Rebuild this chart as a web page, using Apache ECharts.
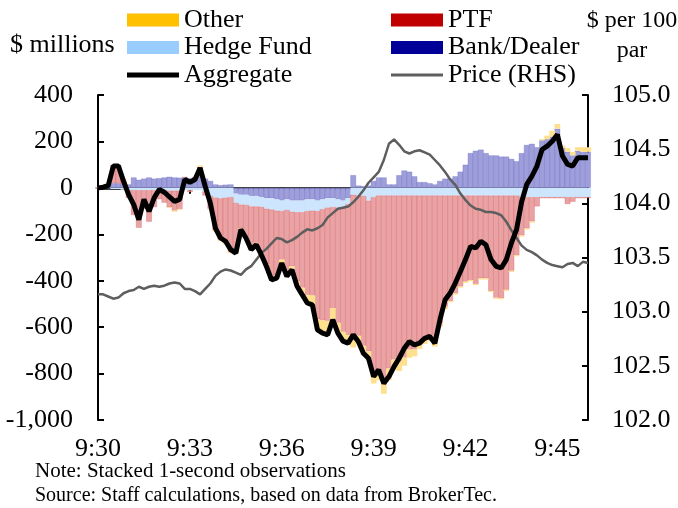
<!DOCTYPE html>
<html><head><meta charset="utf-8">
<script src="https://cdn.jsdelivr.net/npm/echarts@6/dist/echarts.min.js"></script>
<style>html,body{margin:0;padding:0;background:#fff}#c{width:678px;height:508px}</style>
</head><body><div id="c"></div>
<script>
// seconds after 9:30:00
const seconds = [0,10,20,30,40,50,60,70,80,90,100,110,120,130,140,150,160,170,180,190,200,210,220,230,240,250,260,270,280,290,300,310,320,330,340,350,360,370,380,390,400,410,420,430,440,450,460,470,480,490,500,510,520,530,540,550,560,570,580,590,600,610,620,630,640,650,660,670,680,690,700,710,720,730,740,750,760,770,780,790,800,810,820,830,840,850,860,870,880,890,900,910,920,930,940,950,960];
const xTickSeconds = [0,180,360,540,720,900];
const xTickLabels = ['9:30','9:33','9:36','9:39','9:42','9:45'];

const bankDealer = [0,5,10,20,20,15,15,45,35,40,45,40,42,45,48,45,44,45,42,45,48,40,30,15,12,14,15,-25,-30,-30,-35,-35,-40,-45,-45,-50,-55,-50,-55,-55,-55,-50,-50,-55,-50,-45,-45,-50,-55,-45,55,10,8,10,30,45,45,15,15,55,75,70,50,25,25,20,15,30,40,40,50,70,100,150,160,165,150,140,140,135,135,125,115,150,185,190,175,205,210,221,255,172,156,140,160,155,155];
const hedgeFund = [0,0,-2,-5,-5,-8,-10,-10,-10,-10,-10,-10,-10,-10,-12,-12,-12,-10,-10,-10,-10,-15,-35,-42,-45,-42,-40,-40,-42,-43,-45,-45,-42,-45,-48,-48,-45,-45,-48,-50,-50,-50,-48,-45,-42,-40,-38,-35,-30,-25,-30,-33,-35,-55,-40,-33,-33,-33,-33,-33,-33,-33,-33,-33,-33,-33,-33,-33,-33,-33,-33,-33,-33,-33,-33,-33,-33,-33,-33,-33,-33,-33,-33,-40,-40,-40,-40,-40,-40,-40,-40,-40,-40,-40,-40,-40,-40];
const ptf = [0,-2,2,79,79,22,-34,-107,-162,-80,-136,-73,-39,-54,-72,-86,-79,1,-8,1,43,-18,-55,-141,-178,-197,-236,-211,-103,-138,-178,-157,-196,-238,-291,-279,-209,-271,-235,-299,-325,-361,-366,-467,-479,-488,-435,-496,-535,-564,-628,-604,-645,-649,-763,-751,-804,-745,-707,-716,-698,-664,-663,-631,-615,-602,-631,-550,-479,-455,-422,-392,-371,-364,-381,-357,-357,-411,-440,-442,-406,-324,-257,-165,-135,-105,-40,-5,-5,-5,-5,-5,-30,-20,-5,-5,-5];
const other = [0,0,0,0,0,0,0,0,0,0,0,0,0,0,-3,-5,-3,0,0,0,5,0,-5,-5,-5,-5,-5,-5,-5,-5,-8,-8,-10,-10,-12,-12,-15,-15,-15,-20,-30,-35,-40,-45,-55,-60,-50,-45,-40,-35,-30,-35,-40,-40,-40,-45,-50,-50,-45,-40,-35,-35,-30,-30,-25,-25,-20,-15,-10,-5,-5,-5,-5,-5,-5,-5,-5,-5,-5,-5,-5,-5,-5,-5,-5,-5,0,5,15,25,20,10,15,15,15,20,20];
const aggregate = [0,3,10,94,94,29,-29,-72,-137,-50,-101,-43,-7,-19,-39,-58,-50,36,24,36,86,7,-65,-173,-216,-230,-266,-281,-180,-216,-266,-245,-288,-338,-396,-389,-324,-381,-353,-424,-460,-496,-504,-612,-626,-633,-568,-626,-660,-669,-633,-662,-712,-734,-813,-784,-842,-813,-770,-734,-691,-662,-676,-669,-648,-640,-669,-568,-482,-453,-410,-360,-309,-252,-259,-230,-245,-309,-338,-345,-309,-237,-180,-60,15,50,94,165,180,201,230,137,101,94,130,130,130];
const price = [103.16,103.16,103.14,103.12,103.13,103.17,103.19,103.20,103.23,103.21,103.23,103.24,103.23,103.24,103.26,103.27,103.26,103.21,103.21,103.19,103.16,103.21,103.26,103.33,103.37,103.39,103.38,103.36,103.34,103.39,103.42,103.48,103.54,103.58,103.63,103.68,103.67,103.64,103.66,103.69,103.73,103.76,103.75,103.77,103.80,103.87,103.91,103.95,103.96,103.97,104.01,104.06,104.12,104.19,104.24,104.29,104.40,104.55,104.59,104.54,104.48,104.46,104.48,104.49,104.47,104.45,104.40,104.35,104.29,104.22,104.17,104.09,104.03,103.98,103.95,103.94,103.92,103.92,103.91,103.89,103.83,103.75,103.68,103.61,103.57,103.55,103.52,103.48,103.45,103.43,103.42,103.41,103.44,103.45,103.42,103.46,103.45];

const F = '"Liberation Serif","Times New Roman",serif';
const cats = seconds.map(String);
function isTick(i){ return xTickSeconds.indexOf(seconds[i]) >= 0; }
function lbl(v, i){ const k = xTickSeconds.indexOf(Number(v)); return k >= 0 ? xTickLabels[k] : ''; }

const chart = echarts.init(document.getElementById('c'), null, {renderer:'canvas'});
const barW = 5.8;
const legendText = {fontFamily:F, fontSize:26, color:'#000'};
// thin line icons for the line series (invisible moveTo points keep the 52x13 box)
const lineIcon = h => 'path://M0,0M52,13M0,' + (6.5 - h/2) + 'H52V' + (6.5 + h/2) + 'H0Z';
chart.setOption({
  animation:false,
  backgroundColor:'#fff',
  grid:{left:98, right:90, top:95, bottom:88, containLabel:false},
  legend:[
    {left:127, top:7, padding:0, orient:'vertical', itemWidth:52, itemHeight:13, itemGap:1.5, textStyle:legendText, selectedMode:false,
     data:[{name:'Other', icon:'rect', itemStyle:{color:'#FFC000', borderWidth:0}},
           {name:'Hedge Fund', icon:'rect', itemStyle:{color:'#99CCFF', borderWidth:0}},
           {name:'Aggregate', icon:lineIcon(5), itemStyle:{color:'#000', borderWidth:0}}]},
    {left:391, top:7, padding:0, orient:'vertical', itemWidth:52, itemHeight:13, itemGap:1.5, textStyle:legendText, selectedMode:false,
     data:[{name:'PTF', icon:'rect', itemStyle:{color:'#C00000', borderWidth:0}},
           {name:'Bank/Dealer', icon:'rect', itemStyle:{color:'#000099', borderWidth:0}},
           {name:'Price (RHS)', icon:lineIcon(3), itemStyle:{color:'#5E5E5E', borderWidth:0}}]}
  ],
  graphic:[
    {type:'text', left:10, top:32, style:{text:'$ millions', font:'26px '+F, fill:'#000'}},
    {type:'text', x:632, y:6, style:{text:'$ per 100\npar', font:'24px '+F, fill:'#000', align:'center', lineHeight:30}},
    {type:'text', left:35, top:461, style:{text:'Note: Stacked 1-second observations', font:'21px '+F, fill:'#000'}},
    {type:'text', left:35, top:486, style:{text:'Source: Staff calculations, based on data from BrokerTec.', font:'20px '+F, fill:'#000'}}
  ],
  xAxis:[
    {type:'category', data:cats, boundaryGap:false, position:'bottom',
     axisLine:{show:true, onZero:true, onZeroAxisIndex:0, lineStyle:{color:'#000', width:2.5}},
     axisTick:{show:true, length:6, interval:(i)=> isTick(i) && i>0, lineStyle:{color:'#000', width:2}},
     axisLabel:{show:false}, splitLine:{show:false}},
    {type:'category', data:cats, boundaryGap:false, position:'bottom',
     axisLine:{show:false, onZero:false}, axisTick:{show:false}, splitLine:{show:false},
     axisLabel:{show:true, margin:16, interval:(i)=> isTick(i), formatter:lbl, fontFamily:F, fontSize:26, color:'#000'}}
  ],
  yAxis:[
    {type:'value', min:-1000, max:400, interval:200, position:'left',
     axisLine:{show:true, lineStyle:{color:'#000', width:2}},
     axisTick:{show:true, inside:true, length:6, lineStyle:{color:'#000', width:2}},
     axisLabel:{margin:25, fontFamily:F, fontSize:26, color:'#000', formatter:v=>v.toLocaleString('en-US')},
     splitLine:{show:false}},
    {type:'value', min:102, max:105, interval:0.5, position:'right',
     axisLine:{show:true, lineStyle:{color:'#000', width:2}},
     axisTick:{show:true, inside:true, length:6, lineStyle:{color:'#000', width:2}},
     axisLabel:{margin:24, fontFamily:F, fontSize:26, color:'#000', formatter:v=>v.toFixed(1)},
     splitLine:{show:false}}
  ],
  series:[
    {name:'Bank/Dealer', type:'bar', stack:'net', barWidth:barW, data:bankDealer, itemStyle:{color:'#9E9EDA', borderColor:'rgba(90,90,190,0.45)', borderWidth:0.6}},
    {name:'Hedge Fund', type:'bar', stack:'net', barWidth:barW, data:hedgeFund, itemStyle:{color:'#CDE5FD'}},
    {name:'PTF', type:'bar', stack:'net', barWidth:barW, data:ptf, itemStyle:{color:'#EAA3A5', borderColor:'rgba(210,70,70,0.45)', borderWidth:0.6}},
    {name:'Other', type:'bar', stack:'net', barWidth:barW, data:other, itemStyle:{color:'#FFE08E'}},
    {name:'Price (RHS)', type:'line', yAxisIndex:1, data:price, symbol:'none', lineStyle:{color:'#5E5E5E', width:2.5}, itemStyle:{color:'#5E5E5E'}, z:3},
    {name:'Aggregate', type:'line', data:aggregate, symbol:'none', lineStyle:{color:'#000', width:5}, itemStyle:{color:'#000'}, z:4}
  ]
});
</script></body></html>
